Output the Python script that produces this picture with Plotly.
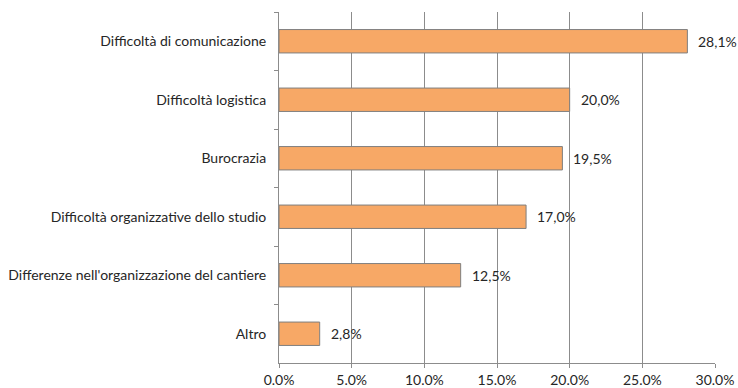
import plotly.graph_objects as go

# Survey answers: main difficulties encountered
categories = [
    "Difficoltà di comunicazione",
    "Difficoltà logistica",
    "Burocrazia",
    "Difficoltà organizzative dello studio",
    "Differenze nell'organizzazione del cantiere",
    "Altro",
]
values = [28.1, 20.0, 19.5, 17.0, 12.5, 2.8]
x_ticks = [0, 5, 10, 15, 20, 25, 30]
x_tick_labels = ["0.0%", "5.0%", "10.0%", "15.0%", "20.0%", "25.0%", "30.0%"]

FONT = "Lato, 'Open Sans', sans-serif"
GRID = "#8c8c8c"
TEXT = "#262626"

fig = go.Figure(
    go.Bar(
        x=values,
        y=categories,
        orientation="h",
        marker=dict(color="#F7A866", line=dict(color="#7f7f7f", width=1)),
        hoverinfo="x+y",
    )
)

# value labels with comma decimal separator, placed just right of each bar
for cat, v in zip(categories, values):
    fig.add_annotation(
        x=v, y=cat, text=f"{v:.1f}%".replace(".", ","),
        showarrow=False, xanchor="left", xshift=9,
        font=dict(family=FONT, size=14, color=TEXT),
    )

fig.update_layout(
    width=738, height=388,
    margin=dict(l=279, r=23, t=12, b=25, autoexpand=False),
    paper_bgcolor="white", plot_bgcolor="white",
    bargap=0.6,
    showlegend=False,
    font=dict(family=FONT, size=14, color=TEXT),
)
fig.update_xaxes(
    range=[0, 30], tickvals=x_ticks, ticktext=x_tick_labels,
    showgrid=True, gridcolor=GRID, gridwidth=1,
    showline=True, linecolor=GRID, linewidth=1,
    ticks="outside", ticklen=4, tickcolor=GRID,
    zeroline=False, fixedrange=True, automargin=False,
    tickfont=dict(family=FONT, size=14, color=TEXT),
)
fig.update_yaxes(
    categoryorder="array", categoryarray=categories, autorange="reversed",
    showline=True, linecolor=GRID, linewidth=1,
    ticks="outside", ticklen=4, tickcolor=GRID, tickson="boundaries",
    showgrid=False, fixedrange=True, ticklabelstandoff=9, automargin=False,
    tickfont=dict(family=FONT, size=14, color=TEXT),
)

fig.write_html("out.html")
